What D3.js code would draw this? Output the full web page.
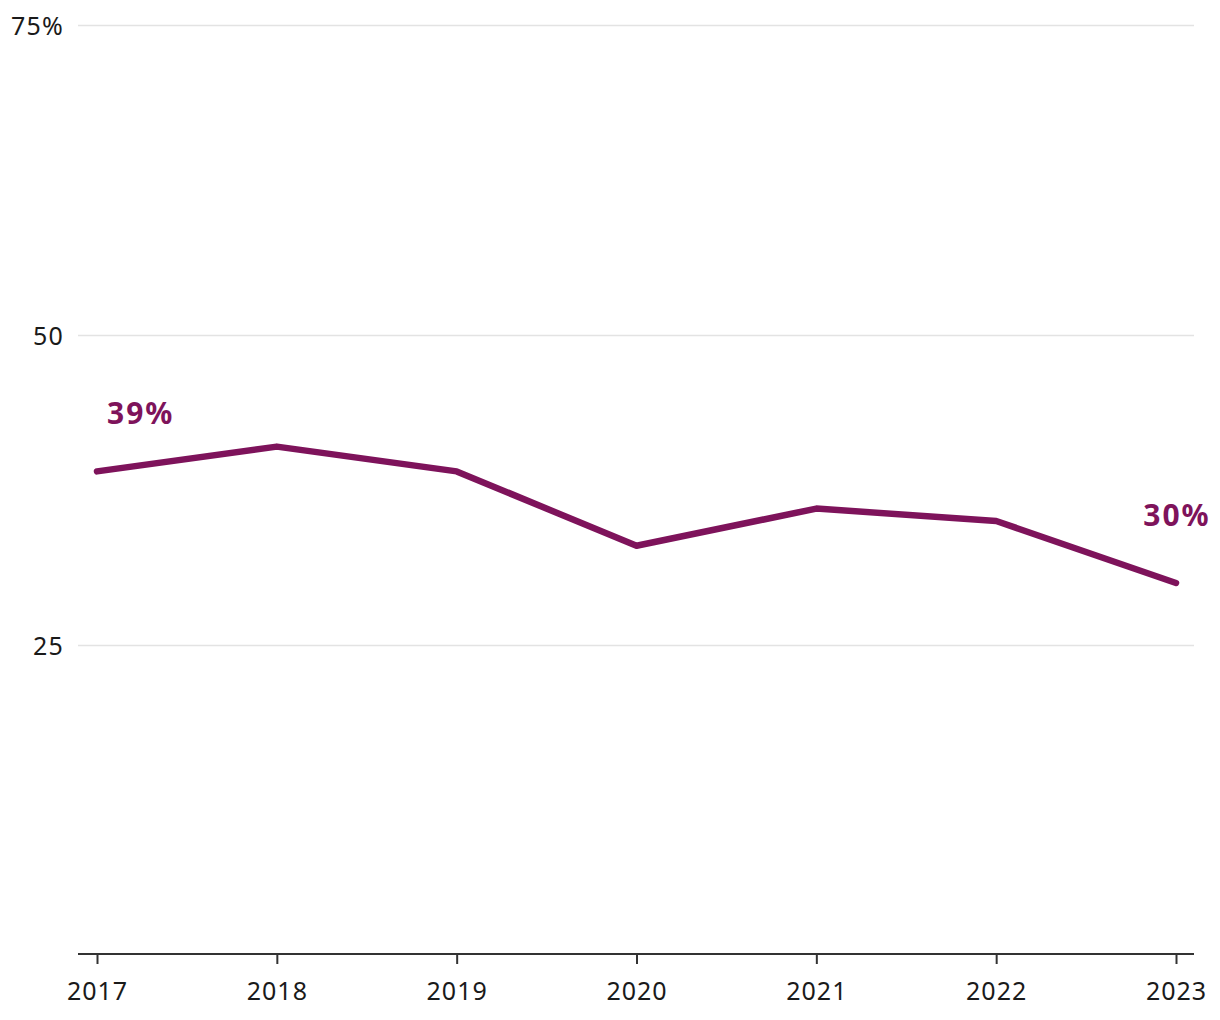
<!DOCTYPE html>
<html>
<head>
<meta charset="utf-8">
<script src="https://cdn.jsdelivr.net/npm/d3@7"></script>
<style>
  html, body { margin: 0; padding: 0; background: #fff; }
  svg { display: block; font-family: "Noto Sans", "Open Sans", sans-serif; }
</style>
</head>
<body>
<svg id="chart" width="1220" height="1020"></svg>
<script>
const years = [2017, 2018, 2019, 2020, 2021, 2022, 2023];
const values = [39, 41, 39, 33, 36, 35, 30];
const yTicks = [25, 50, 75];
const yTickLabels = ["25", "50", "75%"];
const endLabels = ["39%", "30%"];

const svg = d3.select("#chart");
const x = d3.scalePoint().domain(years).range([97, 1176]);
const y = d3.scaleLinear().domain([0, 75]).range([955, 25]);
const color = "#7e135b";

// gridlines
svg.append("g").selectAll("line").data(yTicks).join("line")
  .attr("x1", 78).attr("x2", 1194)
  .attr("y1", d => Math.round(y(d)) + 0.5).attr("y2", d => Math.round(y(d)) + 0.5)
  .attr("stroke", "#e3e3e3").attr("stroke-width", 1.5);

// y labels
svg.append("g").selectAll("text").data(yTicks).join("text")
  .attr("x", 64).attr("y", d => y(d) + 10)
  .attr("text-anchor", "end")
  .attr("font-size", 25).attr("letter-spacing", 1.2).attr("fill", "#1a1a1a")
  .text((d, i) => yTickLabels[i]);

// x axis
const xAxis = d3.axisBottom(x).tickSize(10).tickPadding(14).tickSizeOuter(0);
const gx = svg.append("g").attr("transform", "translate(0,954)").call(xAxis);
gx.select(".domain").remove();
gx.append("line").attr("x1", 78).attr("x2", 1194).attr("y1", 0).attr("y2", 0)
  .attr("stroke", "#333").attr("stroke-width", 2);
gx.selectAll(".tick line").attr("stroke", "#333").attr("stroke-width", 2);
gx.selectAll(".tick text").attr("font-size", 25).attr("fill", "#1a1a1a")
  .attr("letter-spacing", 1)
  .attr("y", 46).attr("dy", 0)
  .attr("font-family", "\"Noto Sans\", sans-serif");

// line
const line = d3.line().x((d, i) => x(years[i])).y(d => y(d));
svg.append("path").datum(values)
  .attr("d", line)
  .attr("fill", "none").attr("stroke", color)
  .attr("stroke-width", 6.5)
  .attr("stroke-linecap", "round").attr("stroke-linejoin", "round");

// end labels
const n = years.length - 1;
svg.append("text").attr("x", x(years[0]) + 10).attr("y", y(values[0]) - 47.5)
  .attr("font-size", 30).attr("font-weight", 700).attr("letter-spacing", 2)
  .attr("fill", color)
  .text(endLabels[0]);
svg.append("text").attr("x", x(years[n]) + 1).attr("y", y(values[n]) - 57)
  .attr("text-anchor", "middle")
  .attr("font-size", 30).attr("font-weight", 700).attr("letter-spacing", 2)
  .attr("fill", color)
  .text(endLabels[1]);
</script>
</body>
</html>
